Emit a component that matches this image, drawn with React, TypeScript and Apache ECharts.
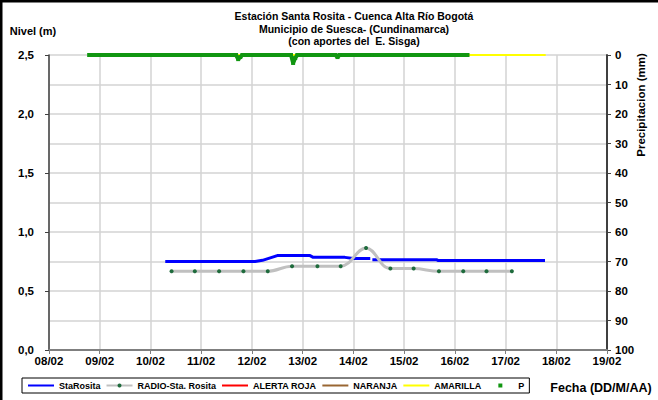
import React, { useEffect, useRef } from 'react';
import * as echarts from 'echarts';

// ---- data ----
const xTickLabels = ['08/02', '09/02', '10/02', '11/02', '12/02', '13/02', '14/02', '15/02', '16/02', '17/02', '18/02', '19/02'];

const staRositaTimes = ['10/02 07:00', '12/02 01:30', '12/02 05:00', '12/02 12:00', '13/02 03:30', '13/02 05:00', '13/02 20:00', '14/02 00:00', '14/02 08:00', '14/02 08:30', '14/02 09:00', '15/02 15:30', '15/02 16:00', '17/02 18:40'];
const staRositaValues = [0.75, 0.75, 0.76, 0.8, 0.8, 0.785, 0.785, 0.775, 0.775, null, 0.765, 0.765, 0.758, 0.758];

const radioTimes = ['10/02 10:00', '10/02 21:00', '11/02 08:30', '11/02 20:00', '12/02 07:30', '12/02 19:00', '13/02 07:00', '13/02 18:00', '14/02 06:00', '14/02 17:30', '15/02 04:30', '15/02 16:30', '16/02 04:00', '16/02 15:00', '17/02 03:00'];
const radioValues = [0.667, 0.667, 0.667, 0.667, 0.667, 0.71, 0.71, 0.71, 0.865, 0.69, 0.69, 0.667, 0.667, 0.667, 0.667];

const thresholdTimes = ['08/02 19:00', '17/02 19:00'];
const alertaRojaValues = [3.0, 3.0];
const naranjaValues = [2.8, 2.8];
const amarillaValues = [2.5, 2.5];

const pTimes = ['08/02 19:00', '11/02 16:30', '11/02 17:30', '11/02 18:30', '11/02 19:30', '12/02 18:30', '12/02 19:30', '12/02 20:30', '12/02 21:30', '13/02 15:30', '13/02 16:30', '13/02 17:30', '14/02 09:00', '14/02 09:30', '14/02 10:20', '16/02 06:00'];
const pValues = [0, 0, 1.4, 0.7, 0, 0, 2.7, 1.0, 0, 0, 0.7, 0, 0, null, 0, 0];

// ---- helpers ----
const toDay = (s: string) => {
  const [d, t] = s.split(' ');
  const day = parseInt(d.split('/')[0], 10);
  const [h, m] = t.split(':').map(Number);
  return day + (h + m / 60) / 24;
};
const pairs = (times: string[], values: (number | null)[]) =>
  times.map((t, i) => [toDay(t), values[i] === null ? '-' : values[i]]);

const FONT = 'Arial, "Liberation Sans", sans-serif';

export default function App() {
  const ref = useRef<HTMLDivElement>(null);

  useEffect(() => {
    document.body.style.margin = '0';
    const chart = echarts.init(ref.current!, undefined, { renderer: 'svg' });
    const axisLabel = { fontFamily: FONT, fontSize: 11.5, fontWeight: 'bold', color: '#000' };
    chart.setOption({
      animation: false,
      backgroundColor: '#fff',
      title: {
        text: 'Estación Santa Rosita - Cuenca Alta Río Bogotá\nMunicipio de Suesca- (Cundinamarca)\n(con aportes del  E. Sisga)',
        left: 349,
        top: 5,
        textAlign: 'center',
        textStyle: { fontFamily: FONT, fontSize: 10.5, fontWeight: 'bold', color: '#000', lineHeight: 12.5 },
      },
      grid: { left: 49, right: 51, top: 55, bottom: 50 },
      legend: {
        left: 22,
        top: 378,
        padding: [3, 5, 3, 5],
        borderColor: '#000',
        borderWidth: 1,
        borderRadius: 0,
        itemWidth: 26,
        itemHeight: 5,
        itemGap: 5,
        selectedMode: false,
        textStyle: { fontFamily: FONT, fontSize: 9, fontWeight: 'bold', color: '#000' },
        data: [
          { name: 'StaRosita', itemStyle: { opacity: 0 } },
          { name: 'RADIO-Sta. Rosita' },
          { name: 'ALERTA ROJA', itemStyle: { opacity: 0 } },
          { name: 'NARANJA', itemStyle: { opacity: 0 } },
          { name: 'AMARILLA', itemStyle: { opacity: 0 } },
          { name: 'P', lineStyle: { opacity: 0 } },
        ],
      },
      xAxis: {
        type: 'value',
        min: 8,
        max: 19,
        interval: 1,
        axisLine: { lineStyle: { color: '#7f7f7f', width: 2 } },
        axisTick: { show: true, length: 4, lineStyle: { color: '#7f7f7f' } },
        axisLabel: { ...axisLabel, margin: 5, formatter: (v: number) => xTickLabels[Math.round(v) - 8] },
        splitLine: { show: true, lineStyle: { color: '#d3d3d3', width: 1.5 } },
      },
      yAxis: [
        {
          type: 'value',
          min: 0,
          max: 2.5,
          interval: 0.5,
          axisLine: { show: true, lineStyle: { color: '#404040', width: 1.5 } },
          axisTick: { show: true, length: 4, lineStyle: { color: '#404040' } },
          axisLabel: { ...axisLabel, margin: 15, formatter: (v: number) => v.toFixed(1).replace('.', ',') },
          splitLine: { show: false },
        },
        {
          type: 'value',
          min: 0,
          max: 100,
          interval: 10,
          inverse: true,
          position: 'right',
          axisLine: { show: true, lineStyle: { color: '#404040', width: 2 } },
          axisTick: { show: true, length: 4, lineStyle: { color: '#404040' } },
          axisLabel: { ...axisLabel, margin: 8 },
          splitLine: { show: true, lineStyle: { color: '#d3d3d3', width: 1.5 } },
        },
      ],
      series: [
        {
          name: 'StaRosita',
          type: 'line',
          yAxisIndex: 0,
          data: pairs(staRositaTimes, staRositaValues),
          symbol: 'none',
          lineStyle: { color: '#0000ff', width: 3 },
          itemStyle: { color: '#0000ff' },
        },
        {
          name: 'RADIO-Sta. Rosita',
          type: 'line',
          yAxisIndex: 0,
          data: pairs(radioTimes, radioValues),
          smooth: 0.4,
          symbol: 'circle',
          symbolSize: 4,
          lineStyle: { color: '#c0c0c0', width: 3 },
          itemStyle: { color: '#1e6b3c' },
        },
        {
          name: 'ALERTA ROJA',
          type: 'line',
          yAxisIndex: 0,
          data: pairs(thresholdTimes, alertaRojaValues),
          symbol: 'none',
          lineStyle: { color: '#ff0000', width: 2 },
          itemStyle: { color: '#ff0000' },
        },
        {
          name: 'NARANJA',
          type: 'line',
          yAxisIndex: 0,
          data: pairs(thresholdTimes, naranjaValues),
          symbol: 'none',
          lineStyle: { color: '#996633', width: 2 },
          itemStyle: { color: '#996633' },
        },
        {
          name: 'AMARILLA',
          type: 'line',
          yAxisIndex: 0,
          data: pairs(thresholdTimes, amarillaValues),
          symbol: 'none',
          clip: false,
          lineStyle: { color: '#ffff00', width: 2 },
          itemStyle: { color: '#ffff00' },
        },
        {
          name: 'P',
          type: 'line',
          yAxisIndex: 1,
          data: pairs(pTimes, pValues),
          symbol: 'rect',
          symbolSize: 4,
          clip: false,
          lineStyle: { color: '#119611', width: 4 },
          itemStyle: { color: '#119611' },
        },
      ],
      graphic: [
        { type: 'rect', shape: { x: 0, y: 0, width: 658, height: 2.5 }, style: { fill: '#000' }, silent: true },
        { type: 'rect', shape: { x: 0, y: 0, width: 2.5, height: 400 }, style: { fill: '#000' }, silent: true },
        {
          type: 'text',
          x: 33,
          y: 31,
          style: { text: 'Nivel (m)', fontFamily: FONT, fontSize: 11, fontWeight: 'bold', fill: '#000', textAlign: 'center', textVerticalAlign: 'middle' },
        },
        {
          type: 'text',
          x: 641,
          y: 105,
          rotation: Math.PI / 2,
          style: { text: 'Precipitacion (mm)', fontFamily: FONT, fontSize: 11.5, fontWeight: 'bold', fill: '#000', textAlign: 'center', textVerticalAlign: 'middle' },
        },
        {
          type: 'text',
          x: 601,
          y: 388,
          style: { text: 'Fecha (DD/M/AA)', fontFamily: FONT, fontSize: 12.5, fontWeight: 'bold', fill: '#000', textAlign: 'center', textVerticalAlign: 'middle' },
        },
      ],
    });
    return () => chart.dispose();
  }, []);

  return <div ref={ref} style={{ width: 658, height: 400 }} />;
}
